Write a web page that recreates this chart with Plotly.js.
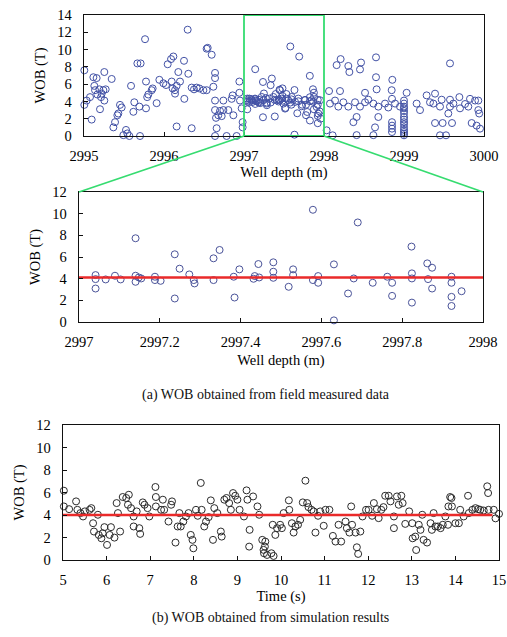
<!DOCTYPE html>
<html>
<head>
<meta charset="utf-8">
<script src="https://cdn.plot.ly/plotly-3.0.1.min.js"></script>
<style>
  html, body { margin: 0; padding: 0; background: #fff; }
  #chart { width: 507px; height: 637px; }
</style>
</head>
<body>
<div id="chart"></div>
<script>
// ---- Field measured WOB, well depth 2995–2997 m ----
const fieldDepthA = [2995.004,2995.004,2995.033,2995.075,2995.096,2995.117,2995.129,2995.158,2995.138,2995.167,
  2995.192,2995.213,2995.221,2995.242,2995.254,2995.200,2995.254,2995.271,2995.346,2995.367,
  2995.388,2995.417,2995.429,2995.450,2995.471,2995.525,2995.492,2995.567,2995.542,2995.588,
  2995.617,2995.629,2995.692,2995.700,2995.667,2995.708,2995.763,2995.775,2995.775,2995.790,
  2995.804,2995.846,2995.858,2995.908,2995.942,2995.992,2996.025,2996.046,2996.088,2996.117,
  2996.096,2996.108,2996.138,2996.158,2996.138,2996.158,2996.179,2996.200,2996.250,2996.254,
  2996.296,2996.304,2996.346,2996.346,2996.375,2996.408,2996.442,2996.492,2996.533,2996.546,
  2996.533,2996.596,2996.617,2996.638,2996.638,2996.638,2996.638,2996.650,2996.658,2996.638,
  2996.679,2996.700,2996.721,2996.742,2996.742,2996.783,2996.804,2996.846,2996.858,2996.867,
  2996.908,2996.942,2996.942,2996.950,2996.971,2996.983,2996.983];
const fieldWobA = [7.6,3.6,4.1,4.5,1.9,6.8,5.8,6.7,5.3,4.8,
  5.4,4.5,4.9,5.3,4.1,3.1,7.4,5.4,6.6,1.0,
  1.6,2.4,2.6,3.6,3.3,0.7,0.1,0.0,0.3,5.8,
  2.8,3.9,3.4,0.0,8.4,8.4,11.2,3.2,6.3,4.5,
  4.8,5.3,5.5,3.8,6.5,6.1,5.9,8.3,8.9,9.2,
  6.3,5.5,5.3,5.8,4.9,1.1,7.4,6.3,8.7,4.3,
  12.3,7.2,0.9,5.6,5.4,5.6,5.5,5.3,5.3,10.2,
  10.1,9.4,5.7,7.3,6.7,4.1,3.0,2.1,0.9,0.0,
  2.4,2.9,2.3,4.1,3.0,0.0,3.0,4.3,4.7,2.4,
  0.0,6.3,5.0,4.1,3.2,1.6,1.0];

// ---- Field measured WOB, additional readings 2997–2998 m ----
const fieldDepthB = [2997.033,2997.067,2997.096,2997.138,2997.179,2997.221,2997.242,2997.283,2997.317,2997.367,
  2997.408,2997.450,2997.471,2997.492,2997.513,2997.554,2997.596,2997.638,2997.679,2997.721,
  2997.763,2997.790,2997.846,2997.875,2997.908,2997.929,2997.950,2997.958];
const fieldWobB = [4.14,4.33,4.14,4.33,3.94,4.52,4.14,3.75,4.33,4.52,
  4.14,5.30,4.33,3.75,3.17,4.14,4.52,3.94,4.33,3.44,
  4.14,2.78,4.14,4.52,3.36,2.59,4.14,2.01];

// ---- Field measured WOB, well depth 2998–3000 m ----
const fieldDepthC = [2998.033,2998.108,2998.063,2998.158,2998.208,2998.304,2998.317,2998.450,2998.463,2998.650,
  2998.650,2998.854,2999.575,2998.200,2998.513,2998.658,2998.846,2999.033,2999.283,2999.388,
  2999.471,2999.575,2999.692,2999.825,2999.929,2998.075,2998.138,2998.179,2998.242,2998.304,
  2998.388,2998.450,2998.513,2998.554,2998.617,2998.679,2998.763,2998.804,2998.888,2998.950,
  2998.408,2998.367,2998.408,2998.617,2998.679,2998.638,
  2998.850,2998.850,2998.850,2998.850,2998.850,
  2999.000,2999.000,2999.000,2999.000,2999.000,2999.000,2999.000,2999.000,2999.000,2999.000,
  2999.000,2999.000,2999.000,2999.000,2999.000,
  2999.158,2999.200,2999.325,2999.367,2999.450,2999.388,2999.483,2999.554,2999.575,2999.600,
  2999.617,2999.700,2999.763,2999.804,2999.846,2999.888,2999.929,2999.940,2999.950,2999.908,
  2999.450,2999.525];
const fieldWobC = [0.66,0.08,5.2,8.2,8.9,8.1,7.4,7.7,8.5,9.1,
  6.8,6.5,8.4,5.2,5.0,5.4,5.3,5.0,4.7,4.9,
  4.2,4.2,4.5,4.3,4.1,3.75,4.1,3.4,3.9,3.4,
  3.9,3.4,3.9,4.2,3.75,3.4,3.75,3.3,3.75,3.4,
  2.2,1.6,0.1,0.1,2.2,1.0,
  4.3,1.6,1.2,0.85,0.46,
  4.1,3.75,3.4,3.2,2.9,2.6,2.2,1.9,1.6,1.35,
  1.0,0.7,0.46,0.27,0.08,
  3.75,3.0,3.9,3.75,3.4,1.5,1.5,2.6,3.4,1.5,
  3.75,3.2,3.7,3.4,1.5,4.1,3.0,2.6,0.85,1.2,
  0.08,0.08];

// ---- Enlarged window 2997–2998 m ----
const zoomDepth = [2997.041,2997.041,2997.041,2997.066,2997.089,2997.103,2997.140,2997.140,2997.140,2997.148,
  2997.154,2997.188,2997.188,2997.202,2997.237,2997.237,2997.249,2997.273,2997.284,2997.286,
  2997.333,2997.333,2997.348,2997.383,2997.385,2997.397,2997.432,2997.435,2997.444,2997.446,
  2997.481,2997.481,2997.481,2997.519,2997.530,2997.530,2997.579,2997.579,2997.592,2997.592,
  2997.631,2997.631,2997.666,2997.680,2997.690,2997.727,2997.763,2997.775,2997.775,2997.823,
  2997.824,2997.824,2997.824,2997.862,2997.864,2997.874,2997.874,2997.922,2997.922,2997.922,
  2997.922,2997.947];
const zoomWob = [4.33,3.96,3.09,3.93,4.27,3.93,7.73,4.27,3.71,4.11,
  4.02,4.18,3.87,3.80,6.25,2.17,4.92,4.39,3.87,3.56,
  5.88,3.87,6.65,4.18,2.26,4.86,3.99,4.24,5.35,4.11,
  5.51,4.64,4.08,3.25,4.86,4.33,10.36,3.87,4.24,3.62,
  5.32,0.15,2.63,4.02,9.19,3.62,4.18,3.62,2.41,6.96,
  4.49,4.02,1.79,5.41,3.96,5.01,3.09,4.18,3.62,2.32,
  1.48,2.84];
const fieldMeanWob = 4.1;

// ---- Simulated WOB against time ----
const simTime = [5.02,5.02,5.14,5.30,5.33,5.40,5.46,5.50,5.61,5.65,
  5.69,5.71,5.80,5.82,5.88,5.91,5.95,6.01,6.07,6.10,
  6.18,6.23,6.26,6.31,6.37,6.45,6.51,6.49,6.56,6.62,
  6.62,6.69,6.75,6.77,6.83,6.87,6.94,6.98,7.12,7.13,
  7.13,7.25,7.29,7.32,7.42,7.48,7.50,7.58,7.63,7.67,
  7.70,7.76,7.82,7.88,7.93,7.97,7.99,8.05,8.09,8.16,
  8.18,8.24,8.28,8.34,8.39,8.44,8.47,8.54,8.62,8.64,
  8.70,8.75,8.81,8.85,8.90,8.95,9.00,9.05,9.15,9.21,
  9.23,9.27,9.28,9.36,9.46,9.50,9.57,9.61,9.63,9.60,
  9.64,9.68,9.78,9.81,9.83,9.87,9.91,9.98,10.02,10.06,
  10.18,10.19,10.25,10.29,10.33,10.39,10.44,10.50,10.56,10.60,
  10.63,10.70,10.75,10.79,10.85,10.90,10.98,11.02,11.11,11.19,
  11.25,11.32,11.38,11.48,11.51,11.57,11.61,11.63,11.71,11.74,
  11.77,11.82,11.87,11.95,12.01,12.09,12.13,12.20,12.24,12.30,
  12.35,12.39,12.47,12.51,12.59,12.59,12.66,12.70,12.76,12.79,
  12.85,12.94,13.01,13.02,13.08,13.10,13.16,13.20,13.24,13.27,
  13.35,13.43,13.46,13.50,13.54,13.60,13.66,13.71,13.77,13.83,
  13.84,13.88,13.91,13.92,14.00,14.08,14.11,14.19,14.29,14.31,
  14.39,14.46,14.52,14.57,14.65,14.73,14.75,14.76,14.88,14.92,
  15.00,15.02];
const simWob = [6.16,4.76,4.52,5.21,4.46,4.17,3.87,4.32,4.46,4.61,
  3.27,2.53,4.02,2.23,1.93,2.38,2.92,1.34,2.23,2.92,
  1.99,5.06,4.17,2.53,5.60,5.51,5.80,4.91,4.61,3.87,
  2.98,4.32,2.83,2.32,5.12,4.91,4.61,3.87,6.49,5.60,
  4.76,4.46,5.36,4.46,3.42,4.91,5.21,1.55,2.98,4.17,
  2.98,3.42,3.87,4.17,2.23,1.79,1.04,4.46,3.93,6.85,
  4.46,2.98,3.42,3.81,5.30,1.79,4.61,4.17,2.53,2.08,
  5.36,5.51,5.06,4.46,5.95,5.71,5.36,4.46,3.87,6.19,
  5.36,1.19,2.68,5.65,4.76,4.02,1.79,0.60,1.19,0.90,
  1.64,0.45,0.60,3.13,0.36,2.23,2.83,3.13,2.83,4.17,
  5.30,4.46,3.27,2.44,2.98,3.13,3.57,5.12,7.05,5.06,
  4.70,4.46,4.32,2.44,3.93,4.32,3.04,4.46,4.46,2.14,
  1.64,3.13,1.64,3.42,2.83,2.44,4.76,3.13,2.44,1.13,
  0.54,2.53,3.87,4.46,4.46,3.93,5.06,4.52,3.72,4.46,
  4.70,5.71,5.71,5.21,3.87,2.83,5.65,4.91,5.71,5.06,
  3.21,4.32,3.27,1.93,2.08,0.89,3.13,2.68,4.02,1.79,
  1.55,3.27,2.68,4.17,2.98,2.98,2.83,3.13,3.87,3.13,
  4.76,5.60,5.51,4.76,3.27,3.27,4.46,3.87,5.71,4.17,
  4.46,4.61,4.52,4.46,4.40,6.55,5.95,4.46,4.46,3.70,
  4.10,3.00];
const simMeanWob = 4.0;
const simMeanSpan = [5.0, 14.85];

// ---- Panel placement (paper fractions) ----
const W = 507, H = 637;
const px = (a, b) => [a / W, b / W];
const py = (top, bottom) => [1 - bottom / H, 1 - top / H];
const topX = px(84, 484),  topY = py(15, 136);
const midX = px(79, 483),  midY = py(192, 322);
const botX = px(63, 499),  botY = py(425, 560);

const serif = 'Liberation Serif';
const tickFont = { family: serif, size: 14.5, color: '#000' };
const titleFont = { family: serif, size: 14.5, color: '#000' };

function axis(opts) {
  return Object.assign({
    showline: true, mirror: true, linecolor: '#111', linewidth: 1.3,
    ticks: 'inside', ticklen: 4, tickwidth: 1, tickcolor: '#111',
    showgrid: false, zeroline: false, tickfont: tickFont,
    fixedrange: true, automargin: false
  }, opts);
}

const blueRing = { symbol: 'circle-open', size: 7, color: '#4352a6', line: { width: 1 } };
const darkRing = { symbol: 'circle-open', size: 7, color: '#2b2b2b', line: { width: 1 } };

const traces = [
  { x: fieldDepthA.concat(fieldDepthB, zoomDepth, fieldDepthC),
    y: fieldWobA.concat(fieldWobB, zoomWob, fieldWobC),
    type: 'scatter', mode: 'markers', marker: blueRing, cliponaxis: false,
    xaxis: 'x', yaxis: 'y', hoverinfo: 'x+y' },
  { x: zoomDepth, y: zoomWob, type: 'scatter', mode: 'markers',
    marker: Object.assign({}, blueRing, { color: '#4a5399' }), cliponaxis: false,
    xaxis: 'x2', yaxis: 'y2' },
  { x: [2997, 2998], y: [fieldMeanWob, fieldMeanWob], type: 'scatter', mode: 'lines',
    line: { color: '#ea2a2a', width: 2.5 }, xaxis: 'x2', yaxis: 'y2' },
  { x: simTime, y: simWob, type: 'scatter', mode: 'markers', marker: darkRing,
    cliponaxis: false, xaxis: 'x3', yaxis: 'y3' },
  { x: simMeanSpan, y: [simMeanWob, simMeanWob], type: 'scatter', mode: 'lines',
    line: { color: '#ea2a2a', width: 2.5 }, xaxis: 'x3', yaxis: 'y3' }
];

// connector from the 2997–2998 window of the top panel to the enlarged panel
const windowLo = 2997, windowHi = 2998, topRange = [2995, 3000];
const toPaperX = v => topX[0] + (v - topRange[0]) / (topRange[1] - topRange[0]) * (topX[1] - topX[0]);
const green = { color: '#36dc70', width: 1.8 };

const layout = {
  width: W, height: H,
  margin: { l: 0, r: 0, t: 0, b: 0 },
  paper_bgcolor: '#fff', plot_bgcolor: '#fff',
  showlegend: false,
  font: { family: serif, color: '#000' },
  xaxis: axis({ domain: topX, anchor: 'y', range: topRange, dtick: 1, ticklabelstandoff: 6,
    title: { text: 'Well depth (m)', font: titleFont, standoff: 4 } }),
  yaxis: axis({ domain: topY, anchor: 'x', range: [0, 14], dtick: 2, ticklabelstandoff: 8,
    title: { text: 'WOB (T)', font: titleFont, standoff: 8 } }),
  xaxis2: axis({ domain: midX, anchor: 'y2', range: [windowLo, windowHi], dtick: 0.2,
    tickformat: '.5~g', ticklabelstandoff: 6,
    title: { text: 'Well depth (m)', font: titleFont, standoff: 6 } }),
  yaxis2: axis({ domain: midY, anchor: 'x2', range: [0, 12], dtick: 2, ticklabelstandoff: 8,
    title: { text: 'WOB (T)', font: titleFont, standoff: 8 } }),
  xaxis3: axis({ domain: botX, anchor: 'y3', range: [5, 15], dtick: 1, ticklabelstandoff: 6,
    title: { text: 'Time (s)', font: titleFont, standoff: 4 } }),
  yaxis3: axis({ domain: botY, anchor: 'x3', range: [0, 12], dtick: 2, ticklabelstandoff: 8,
    title: { text: 'WOB (T)', font: titleFont, standoff: 8 } }),
  shapes: [
    { type: 'rect', xref: 'x', yref: 'y', x0: windowLo, x1: windowHi, y0: 0, y1: 14, line: green },
    { type: 'line', xref: 'paper', yref: 'paper', x0: toPaperX(windowLo), y0: topY[0],
      x1: midX[0], y1: midY[1], line: green },
    { type: 'line', xref: 'paper', yref: 'paper', x0: toPaperX(windowHi), y0: topY[0],
      x1: midX[1], y1: midY[1], line: green }
  ],
  annotations: [
    { text: '(a) WOB obtained from field measured data', xref: 'paper', yref: 'paper',
      x: 266 / W, y: 1 - 395 / H, showarrow: false, font: { family: serif, size: 14, color: '#111' } },
    { text: '(b) WOB obtained from simulation results', xref: 'paper', yref: 'paper',
      x: 270 / W, y: 1 - 628 / H, showarrow: false, font: { family: serif, size: 14, color: '#111' } }
  ]
};

Plotly.newPlot('chart', traces, layout, { displayModeBar: false, staticPlot: true });
</script>
</body>
</html>
